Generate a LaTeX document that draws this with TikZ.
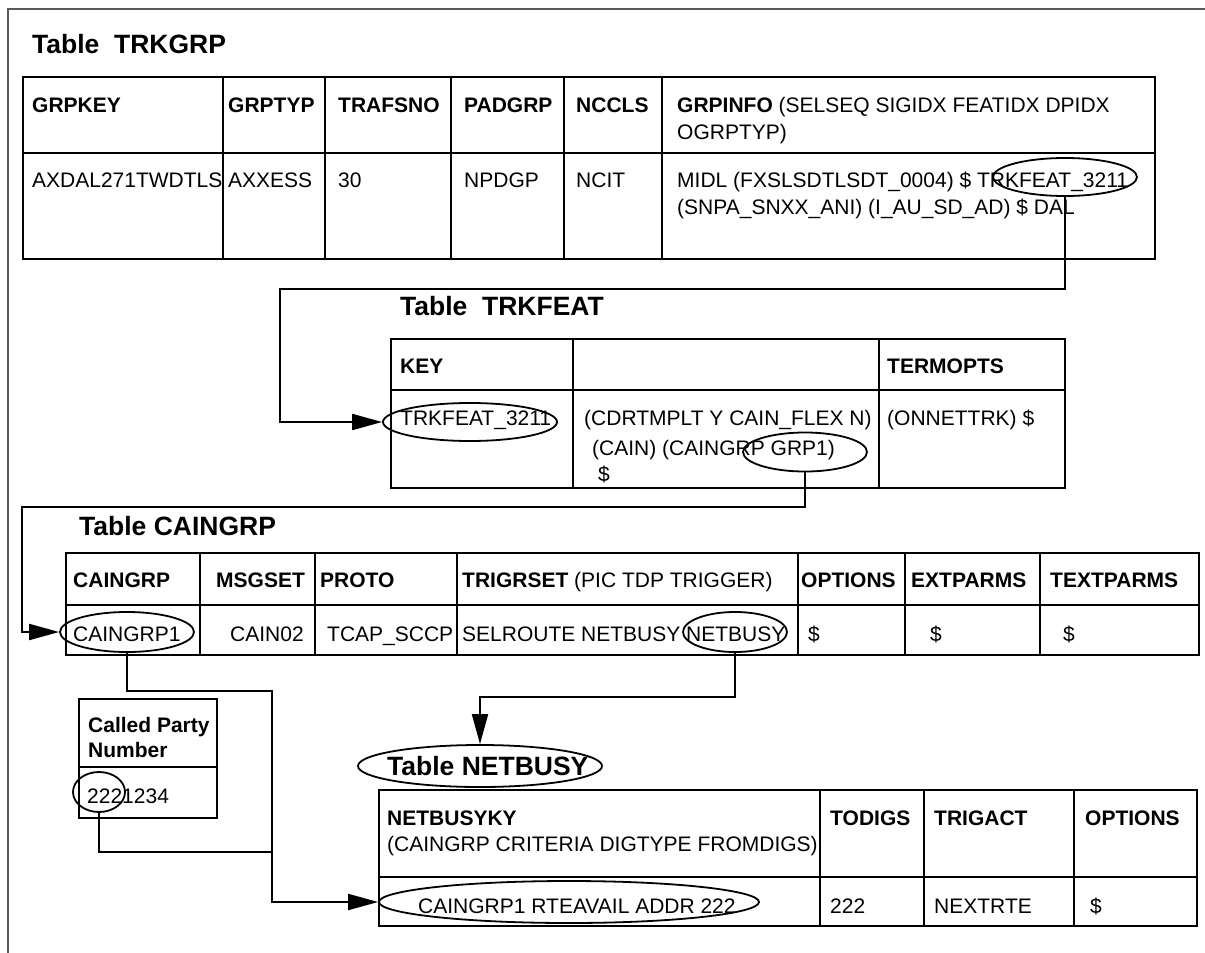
\documentclass[tikz,border=0pt]{standalone}
\usepackage{fontspec}
\setmainfont{Liberation Sans}
\usetikzlibrary{arrows.meta, shapes.geometric}

\tikzset{
	tabline/.style={line width=2.2pt},
	wire/.style={line width=2pt},
	link/.style={line width=2pt, -{Triangle[length=30pt, width=16pt]}},
	ring/.style={draw, ellipse, line width=1.8pt, inner sep=0pt},
	cell/.style={anchor=base west, inner sep=0pt, font=\fontsize{21}{25}\selectfont},
	tabtitle/.style={anchor=base west, inner sep=0pt, font=\fontsize{26.5}{30}\selectfont\bfseries},
}

\begin{document}
\begin{tikzpicture}[x=1pt, y=-1pt]
	\useasboundingbox (0,0) rectangle (1205,953);

	% outer frame
	\draw[line width=1.2pt, black!65] (8,953) -- (8,9) -- (1205,9);

	% table TRKGRP
	\node[tabtitle] (grptitle) at (32,53) {Table~~TRKGRP};
	\draw[tabline] (23,77) rectangle (1155,259);
	\draw[tabline] (23,153) -- (1155,153);
	\draw[tabline] (223,77) -- (223,259);
	\draw[tabline] (325,77) -- (325,259);
	\draw[tabline] (451,77) -- (451,259);
	\draw[tabline] (564,77) -- (564,259);
	\draw[tabline] (662,77) -- (662,259);
	\node[cell] (grpkey) at (32,112) {\textbf{GRPKEY}};
	\node[cell] (grptyp) at (228,112) {\textbf{GRPTYP}};
	\node[cell] (trafsno) at (338,112) {\textbf{TRAFSNO}};
	\node[cell] (padgrp) at (464,112) {\textbf{PADGRP}};
	\node[cell] (nccls) at (576,112) {\textbf{NCCLS}};
	\node[cell] (grpinfo) at (677,112) {\textbf{GRPINFO} (SELSEQ SIGIDX FEATIDX DPIDX};
	\node[cell] (grpinfob) at (677,139) {OGRPTYP)};
	\node[cell] (grpkeyv) at (32,187) {AXDAL271TWDTLS};
	\node[cell] (grptypv) at (228,187) {AXXESS};
	\node[cell] (trafsnov) at (338,187) {30};
	\node[cell] (padgrpv) at (464,187) {NPDGP};
	\node[cell] (ncclsv) at (576,187) {NCIT};
	\node[cell] (grpinfov) at (677,187) {MIDL (FXSLSDTLSDT\_0004) \$ TRKFEAT\_3211};
	\node[cell] (grpinfovb) at (677,214) {(SNPA\_SNXX\_ANI) (I\_AU\_SD\_AD) \$ DAL};
	\node[ring, minimum width=144pt, minimum height=38pt] (grpref) at (1065,177) {};

	% table TRKFEAT
	\node[tabtitle] (feattitle) at (400,315) {Table~~TRKFEAT};
	\draw[tabline] (391,339) rectangle (1065,488);
	\draw[tabline] (391,390) -- (1065,390);
	\draw[tabline] (573,339) -- (573,488);
	\draw[tabline] (879,339) -- (879,488);
	\node[cell] (featkeyh) at (400,373) {\textbf{KEY}};
	\node[cell] (termopts) at (887,373) {\textbf{TERMOPTS}};
	\node[cell] (featkeyv) at (400,425) {TRKFEAT\_3211};
	\node[cell] (featopts) at (584,425) {(CDRTMPLT Y CAIN\_FLEX N)};
	\node[cell] (featoptsb) at (592,455) {(CAIN) (CAINGRP GRP1)};
	\node[cell] (featoptsc) at (598,481) {\$};
	\node[cell] (termoptsv) at (887,425) {(ONNETTRK) \$};
	\node[ring, minimum width=174pt, minimum height=38pt] (featkey) at (470,422) {};
	\node[ring, minimum width=124pt, minimum height=39pt] (grpone) at (805,452) {};

	% table CAINGRP
	\node[tabtitle] (caintitle) at (79,535) {Table CAINGRP};
	\draw[tabline] (66,553) rectangle (1199,655);
	\draw[tabline] (66,605) -- (1199,605);
	\draw[tabline] (200,553) -- (200,655);
	\draw[tabline] (315,553) -- (315,655);
	\draw[tabline] (457,553) -- (457,655);
	\draw[tabline] (798,553) -- (798,655);
	\draw[tabline] (905,553) -- (905,655);
	\draw[tabline] (1040,553) -- (1040,655);
	\node[cell] (caingrp) at (73,587) {\textbf{CAINGRP}};
	\node[cell] (msgset) at (216,587) {\textbf{MSGSET}};
	\node[cell] (proto) at (320,587) {\textbf{PROTO}};
	\node[cell] (trigrset) at (462,587) {\textbf{TRIGRSET} (PIC TDP TRIGGER)};
	\node[cell] (cainopts) at (801,587) {\textbf{OPTIONS}};
	\node[cell] (extparms) at (911,587) {\textbf{EXTPARMS}};
	\node[cell] (textparms) at (1050,587) {\textbf{TEXTPARMS}};
	\node[cell] (caingrpv) at (73,641) {CAINGRP1};
	\node[cell] (msgsetv) at (230,641) {CAIN02};
	\node[cell] (protov) at (327,641) {TCAP\_SCCP};
	\node[cell] (trigrsetv) at (462,641) {SELROUTE NETBUSY NETBUSY};
	\node[cell] (cainoptsv) at (808,641) {\$};
	\node[cell] (extparmsv) at (930,641) {\$};
	\node[cell] (textparmsv) at (1063,641) {\$};
	\node[ring, minimum width=134pt, minimum height=40pt] (cainkey) at (127,632) {};
	\node[ring, minimum width=104pt, minimum height=40pt] (busyref) at (735,632) {};

	% called party number
	\draw[tabline] (79,699) rectangle (217,818);
	\draw[tabline] (79,767) -- (217,767);
	\node[cell] (called) at (88,732) {\textbf{Called Party}};
	\node[cell] (calledb) at (88,757) {\textbf{Number}};
	\node[cell] (number) at (87,803) {2221234};
	\node[ring, minimum width=52pt, minimum height=40pt] (digits) at (99,792) {};

	% table NETBUSY
	\node[ring, minimum width=244pt, minimum height=42pt] (busytitle) at (480,766) {};
	\node[tabtitle] (busytitletext) at (387,775) {Table NETBUSY};
	\draw[tabline] (379,790) rectangle (1197,926);
	\draw[tabline] (379,877) -- (1197,877);
	\draw[tabline] (820,790) -- (820,926);
	\draw[tabline] (924,790) -- (924,926);
	\draw[tabline] (1074,790) -- (1074,926);
	\node[cell] (netbusyky) at (387,825) {\textbf{NETBUSYKY}};
	\node[cell] (netbusykyb) at (387,851) {(CAINGRP CRITERIA DIGTYPE FROMDIGS)};
	\node[cell] (todigs) at (830,825) {\textbf{TODIGS}};
	\node[cell] (trigact) at (934,825) {\textbf{TRIGACT}};
	\node[cell] (busyopts) at (1085,825) {\textbf{OPTIONS}};
	\node[cell] (netbusykyv) at (418,913) {CAINGRP1 RTEAVAIL ADDR 222};
	\node[cell] (todigsv) at (830,913) {222};
	\node[cell] (trigactv) at (934,913) {NEXTRTE};
	\node[cell] (busyoptsv) at (1090,913) {\$};
	\node[ring, minimum width=380pt, minimum height=42pt] (busykey) at (569,902) {};

	% connectors
	\coordinate (bendA) at (280,289);
	\coordinate (bendB) at (22,507);
	\coordinate (bendC) at (480,697);
	\coordinate (bendD) at (272,691);
	\coordinate (joinE) at (272,852);
	\draw[link] (grpref.south) |- (bendA) |- (featkey.west);
	\draw[link] (grpone.south) |- (bendB) |- (cainkey.west);
	\draw[link] (busyref.south) |- (bendC) -- (busytitle.north);
	\draw[link] (cainkey.south) |- (bendD) |- (busykey.west);
	\draw[wire] (digits.south) |- (joinE);
\end{tikzpicture}
\end{document}
